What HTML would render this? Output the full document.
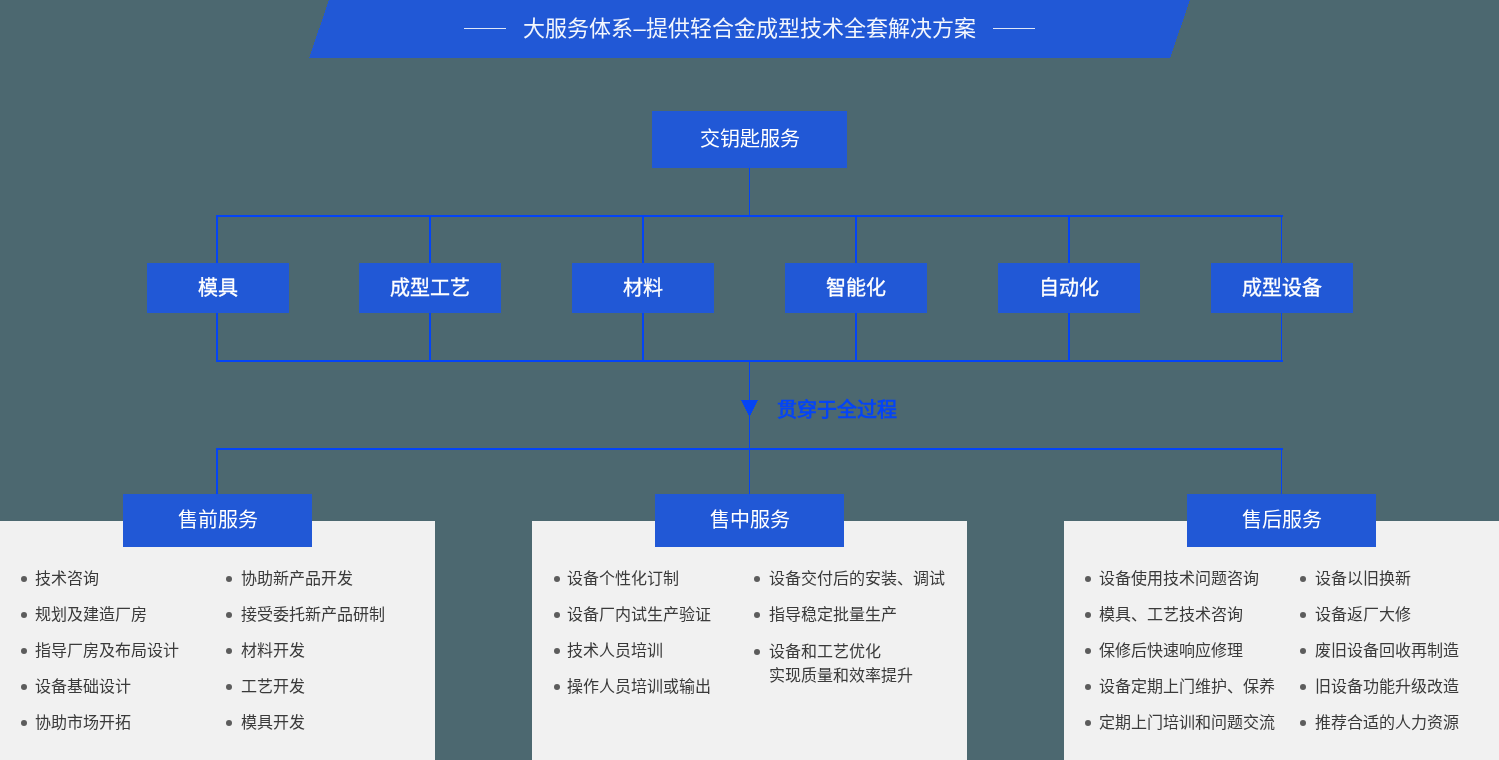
<!DOCTYPE html>
<html lang="zh-CN">
<head>
<meta charset="utf-8">
<style>
html,body{margin:0;padding:0;}
body{width:1499px;height:760px;overflow:hidden;position:relative;background:#4c6870;font-family:"Liberation Sans",sans-serif;}
.a{position:absolute;}
.ln{position:absolute;background:#0444f6;}
.box{position:absolute;background:#2158d6;color:#fff;text-align:center;}
.panel{position:absolute;background:#f1f1f1;top:521px;height:239px;width:435px;}
.it{position:absolute;font-size:16px;line-height:24px;color:#3a3a3a;white-space:nowrap;}
.dot{position:absolute;width:6px;height:6px;border-radius:50%;background:#5c5c5c;}
</style>
</head>
<body>
<div id="wrap" style="position:absolute;left:0;top:0;width:1499px;height:760px;will-change:transform">
<svg class="a" style="left:0;top:0" width="1499" height="760">
<polygon points="329,0 1190,0 1170,58 309,58" fill="#2158d6" shape-rendering="crispEdges"/>
<polygon points="741,400 758,400 749.5,417" fill="#0444f6" shape-rendering="crispEdges"/>
</svg>
<div class="a" style="left:464px;top:28px;width:42px;height:1.3px;background:#dfe7f8"></div>
<div class="a" style="left:993px;top:28px;width:42px;height:1.3px;background:#dfe7f8"></div>
<div class="a" style="left:0;top:14px;width:1499px;text-align:center;color:#f3f6fd;font-size:22px;line-height:30px;">大服务体系–提供轻合金成型技术全套解决方案</div>

<div class="box" style="left:652px;top:111px;width:195px;height:57px;line-height:57px;font-size:20px;">交钥匙服务</div>

<!-- lines -->
<div class="ln" style="left:749px;top:168px;width:1px;height:48px"></div>
<div class="ln" style="left:216px;top:215px;width:1067px;height:2px"></div>
<div class="ln" style="left:216px;top:360px;width:1067px;height:2px"></div>
<div class="ln" style="left:216px;top:448px;width:1067px;height:2px"></div>

<div class="ln" style="left:216px;top:215px;width:2px;height:147px"></div>
<div class="ln" style="left:429px;top:215px;width:2px;height:147px"></div>
<div class="ln" style="left:642px;top:215px;width:2px;height:147px"></div>
<div class="ln" style="left:855px;top:215px;width:2px;height:147px"></div>
<div class="ln" style="left:1068px;top:215px;width:2px;height:147px"></div>
<div class="ln" style="left:1281px;top:215px;width:1px;height:147px"></div>

<div class="ln" style="left:749px;top:362px;width:1px;height:132px"></div>
<div class="ln" style="left:216px;top:448px;width:2px;height:46px"></div>
<div class="ln" style="left:1281px;top:448px;width:1px;height:46px"></div>

<div class="box" style="left:147px;top:263px;width:142px;height:50px;line-height:50px;font-size:20px;-webkit-text-stroke:0.3px #fff">模具</div>
<div class="box" style="left:359px;top:263px;width:142px;height:50px;line-height:50px;font-size:20px;-webkit-text-stroke:0.3px #fff">成型工艺</div>
<div class="box" style="left:572px;top:263px;width:142px;height:50px;line-height:50px;font-size:20px;-webkit-text-stroke:0.3px #fff">材料</div>
<div class="box" style="left:785px;top:263px;width:142px;height:50px;line-height:50px;font-size:20px;-webkit-text-stroke:0.3px #fff">智能化</div>
<div class="box" style="left:998px;top:263px;width:142px;height:50px;line-height:50px;font-size:20px;-webkit-text-stroke:0.3px #fff">自动化</div>
<div class="box" style="left:1211px;top:263px;width:142px;height:50px;line-height:50px;font-size:20px;-webkit-text-stroke:0.3px #fff">成型设备</div>

<div class="a" style="left:777px;top:397px;font-size:20px;line-height:26px;font-weight:bold;color:#0444f6;white-space:nowrap">贯穿于全过程</div>

<!-- panels -->
<div class="panel" style="left:0"></div>
<div class="panel" style="left:532px"></div>
<div class="panel" style="left:1064px"></div>

<div class="box" style="left:123px;top:494px;width:189px;height:53px;line-height:53px;font-size:20px;">售前服务</div>
<div class="box" style="left:655px;top:494px;width:189px;height:53px;line-height:53px;font-size:20px;">售中服务</div>
<div class="box" style="left:1187px;top:494px;width:189px;height:53px;line-height:53px;font-size:20px;">售后服务</div>

<div id="items">
<div class="dot" style="left:21.4px;top:576.0px"></div>
<div class="it" style="left:35.0px;top:567px">技术咨询</div>
<div class="dot" style="left:21.4px;top:612.0px"></div>
<div class="it" style="left:35.0px;top:603px">规划及建造厂房</div>
<div class="dot" style="left:21.4px;top:648.0px"></div>
<div class="it" style="left:35.0px;top:639px">指导厂房及布局设计</div>
<div class="dot" style="left:21.4px;top:684.0px"></div>
<div class="it" style="left:35.0px;top:675px">设备基础设计</div>
<div class="dot" style="left:21.4px;top:720.0px"></div>
<div class="it" style="left:35.0px;top:711px">协助市场开拓</div>
<div class="dot" style="left:225.6px;top:576.0px"></div>
<div class="it" style="left:241.0px;top:567px">协助新产品开发</div>
<div class="dot" style="left:225.6px;top:612.0px"></div>
<div class="it" style="left:241.0px;top:603px">接受委托新产品研制</div>
<div class="dot" style="left:225.6px;top:648.0px"></div>
<div class="it" style="left:241.0px;top:639px">材料开发</div>
<div class="dot" style="left:225.6px;top:684.0px"></div>
<div class="it" style="left:241.0px;top:675px">工艺开发</div>
<div class="dot" style="left:225.6px;top:720.0px"></div>
<div class="it" style="left:241.0px;top:711px">模具开发</div>
<div class="dot" style="left:553.6px;top:576.0px"></div>
<div class="it" style="left:567.0px;top:567px">设备个性化订制</div>
<div class="dot" style="left:553.6px;top:612.0px"></div>
<div class="it" style="left:567.0px;top:603px">设备厂内试生产验证</div>
<div class="dot" style="left:553.6px;top:648.0px"></div>
<div class="it" style="left:567.0px;top:639px">技术人员培训</div>
<div class="dot" style="left:553.6px;top:684.0px"></div>
<div class="it" style="left:567.0px;top:675px">操作人员培训或输出</div>
<div class="dot" style="left:753.7px;top:576.0px"></div>
<div class="it" style="left:769.0px;top:567px">设备交付后的安装、调试</div>
<div class="dot" style="left:753.7px;top:612.0px"></div>
<div class="it" style="left:769.0px;top:603px">指导稳定批量生产</div>
<div class="dot" style="left:753.7px;top:649.0px"></div>
<div class="it" style="left:769.0px;top:640px">设备和工艺优化<br>实现质量和效率提升</div>
<div class="dot" style="left:1084.8px;top:576.0px"></div>
<div class="it" style="left:1099.0px;top:567px">设备使用技术问题咨询</div>
<div class="dot" style="left:1084.8px;top:612.0px"></div>
<div class="it" style="left:1099.0px;top:603px">模具、工艺技术咨询</div>
<div class="dot" style="left:1084.8px;top:648.0px"></div>
<div class="it" style="left:1099.0px;top:639px">保修后快速响应修理</div>
<div class="dot" style="left:1084.8px;top:684.0px"></div>
<div class="it" style="left:1099.0px;top:675px">设备定期上门维护、保养</div>
<div class="dot" style="left:1084.8px;top:720.0px"></div>
<div class="it" style="left:1099.0px;top:711px">定期上门培训和问题交流</div>
<div class="dot" style="left:1299.9px;top:576.0px"></div>
<div class="it" style="left:1315.0px;top:567px">设备以旧换新</div>
<div class="dot" style="left:1299.9px;top:612.0px"></div>
<div class="it" style="left:1315.0px;top:603px">设备返厂大修</div>
<div class="dot" style="left:1299.9px;top:648.0px"></div>
<div class="it" style="left:1315.0px;top:639px">废旧设备回收再制造</div>
<div class="dot" style="left:1299.9px;top:684.0px"></div>
<div class="it" style="left:1315.0px;top:675px">旧设备功能升级改造</div>
<div class="dot" style="left:1299.9px;top:720.0px"></div>
<div class="it" style="left:1315.0px;top:711px">推荐合适的人力资源</div>
</div>
</div>
</body>
</html>
